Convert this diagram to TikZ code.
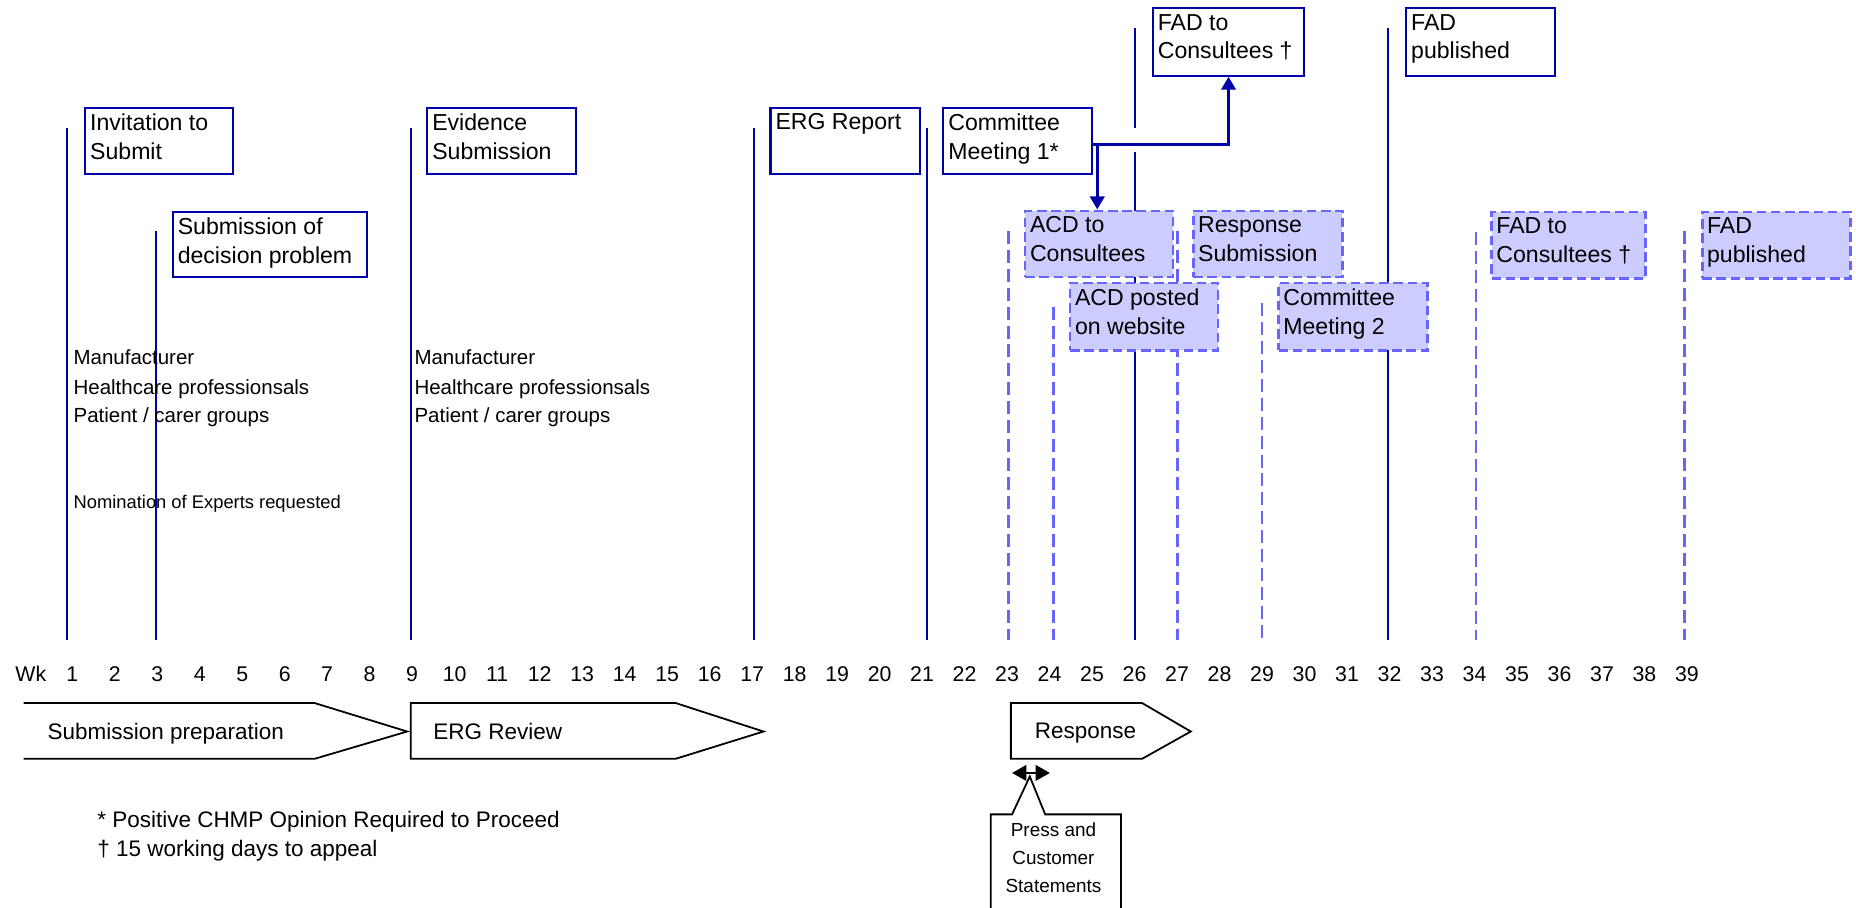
\documentclass[tikz,border=0pt]{standalone}
\usepackage{fontspec}
\setmainfont{Liberation Sans}
\usetikzlibrary{arrows.meta}
\definecolor{dblue}{RGB}{0,0,170}
\definecolor{lblue}{RGB}{102,102,255}
\definecolor{lfill}{RGB}{204,204,255}
\begin{document}
\begin{tikzpicture}[x=1pt,y=-1pt,
  mline/.style={dblue, line width=1.7pt},
  dline/.style={lblue, line width=2.2pt, dash pattern=on 11pt off 5pt},
  bx/.style={draw=dblue, line width=1.8pt, fill=white, anchor=north west, minimum height=56pt, inner sep=0pt},
  dbx/.style={draw=lblue, line width=2.2pt, fill=lfill, dash pattern=on 8pt off 4pt, anchor=north west, minimum height=56pt, inner sep=0pt},
  bt/.style={anchor=north west, align=left, inner sep=0pt, font=\fontsize{19.5}{24}\selectfont, xshift=5pt, yshift=-6pt},
  lt/.style={anchor=base west, inner sep=0pt, font=\fontsize{17.3}{20}\selectfont},
  wk/.style={anchor=base, inner sep=0pt, font=\fontsize{18}{20}\selectfont},
  ct/.style={anchor=base west, inner sep=0pt, font=\fontsize{19}{22}\selectfont},
  chev/.style={black, line width=1.5pt, line join=miter},
  conn/.style={dblue, line width=2.8pt, -{Triangle[length=11pt,width=12pt]}}
]
\useasboundingbox (0,0) rectangle (1568,767);

% solid timeline markers
\draw[mline] (57,108) -- (57,541);
\draw[mline] (132,195) -- (132,541);
\draw[mline] (347,108) -- (347,541);
\draw[mline] (637,108) -- (637,541);
\draw[mline] (783,108) -- (783,541);
\draw[mline] (959,24) -- (959,108);
\draw[mline] (959,128) -- (959,541);
\draw[mline] (1173,24) -- (1173,541);

% dashed timeline markers
\draw[dline] (852,195) -- (852,541);
\draw[dline] (890,259) -- (890,541);
\draw[dline] (995,195) -- (995,541);
\draw[dline] (1066,256) -- (1066,541);
\draw[dline] (1247,196) -- (1247,541);
\draw[dline] (1423,195) -- (1423,541);

% solid boxes
\node[bx, minimum width=125pt] (inv) at (71,90) {};
\node[bt] (invt) at (inv.north west) {Invitation to\\Submit};
\node[bx, minimum width=164pt, minimum height=55pt] (sdp) at (145,178) {};
\node[bt] (sdpt) at (sdp.north west) {Submission of\\decision problem};
\node[bx, minimum width=126pt] (evs) at (360,90) {};
\node[bt] (evst) at (evs.north west) {Evidence\\Submission};
\node[bx, minimum width=126pt] (erg) at (650,90) {};
\node[bt] (ergt) at (erg.north west) {ERG Report};
\node[bx, minimum width=126pt] (cm1) at (796,90) {};
\node[bt] (cm1t) at (cm1.north west) {Committee\\Meeting 1*};
\node[bx, minimum width=128pt, minimum height=57pt] (fadc) at (973,6) {};
\node[bt] (fadct) at (fadc.north west) {FAD to\\Consultees †};
\node[bx, minimum width=126pt, minimum height=57pt] (fadp) at (1187,6) {};
\node[bt] (fadpt) at (fadp.north west) {FAD\\published};

% dashed boxes
\node[dbx, minimum width=125pt] (acd1) at (865,177) {};
\node[bt] (acd1t) at (acd1.north west) {ACD to\\Consultees};
\node[dbx, minimum width=126pt] (resp) at (1007,177) {};
\node[bt] (respt) at (resp.north west) {Response\\Submission};
\node[dbx, minimum width=125pt, minimum height=57pt] (acd2) at (903,238) {};
\node[bt] (acd2t) at (acd2.north west) {ACD posted\\on website};
\node[dbx, minimum width=126pt, minimum height=57pt] (cm2) at (1079,238) {};
\node[bt] (cm2t) at (cm2.north west) {Committee\\Meeting 2};
\node[dbx, minimum width=130pt] (fadc2) at (1259,178) {};
\node[bt] (fadc2t) at (fadc2.north west) {FAD to\\Consultees †};
\node[dbx, minimum width=125pt] (fadp2) at (1437,178) {};
\node[bt] (fadp2t) at (fadp2.north west) {FAD\\published};

% connectors from Committee Meeting 1
\coordinate (j) at (927,122);
\draw[conn] (cm1.east |- j) -| (fadc.south);
\draw[conn] (j) -- (j |- acd1.north);

% stakeholder lists
\node[lt] (m1) at (62,308) {Manufacturer};
\node[lt] (h1) at (62,333) {Healthcare professionsals};
\node[lt] (p1) at (62,357) {Patient / carer groups};
\node[lt] (m2) at (350,308) {Manufacturer};
\node[lt] (h2) at (350,333) {Healthcare professionsals};
\node[lt] (p2) at (350,357) {Patient / carer groups};
\node[lt, font=\fontsize{15.5}{18}\selectfont] (nom) at (62,430) {Nomination of Experts requested};

% week axis
\node[wk] (wkl) at (26,576) {Wk};
\foreach \n in {1,...,39} {
  \node[wk] (w\n) at ({61+(\n-1)*35.9},576) {\n};
}

% phase chevrons
\draw[chev] (20,594) -- (266,594) -- (344,618) -- (266,641) -- (20,641);
\node[ct] (spt) at (40,625) {Submission preparation};
\draw[chev] (347,594) -- (571,594) -- (645,618) -- (571,641) -- (347,641) -- cycle;
\node[ct] (ergr) at (366,625) {ERG Review};
\draw[chev] (854,594) -- (965,594) -- (1006,618) -- (965,641) -- (854,641) -- cycle;
\node[ct, anchor=base] (rsp) at (917,624) {Response};

% press statement callout
\coordinate (da1) at (855,653);
\coordinate (da2) at (887,653);
\draw[black, line width=2pt, {Triangle[length=12pt,width=13pt]}-{Triangle[length=12pt,width=13pt]}] (da1) -- (da2);
\draw[black, line width=1.5pt, line join=miter] (837,770) -- (837,688) -- (855,688) -- (870,656) -- (883,688) -- (947,688) -- (947,770);
\node[anchor=north, align=center, inner sep=0pt, font=\fontsize{16}{23.5}\selectfont] (press) at (890,695) {Press and\\Customer\\Statements};

% footnotes
\node[ct] (fn1) at (82,699) {* Positive CHMP Opinion Required to Proceed};
\node[ct] (fn2) at (82,724) {† 15 working days to appeal};
\end{tikzpicture}
\end{document}
